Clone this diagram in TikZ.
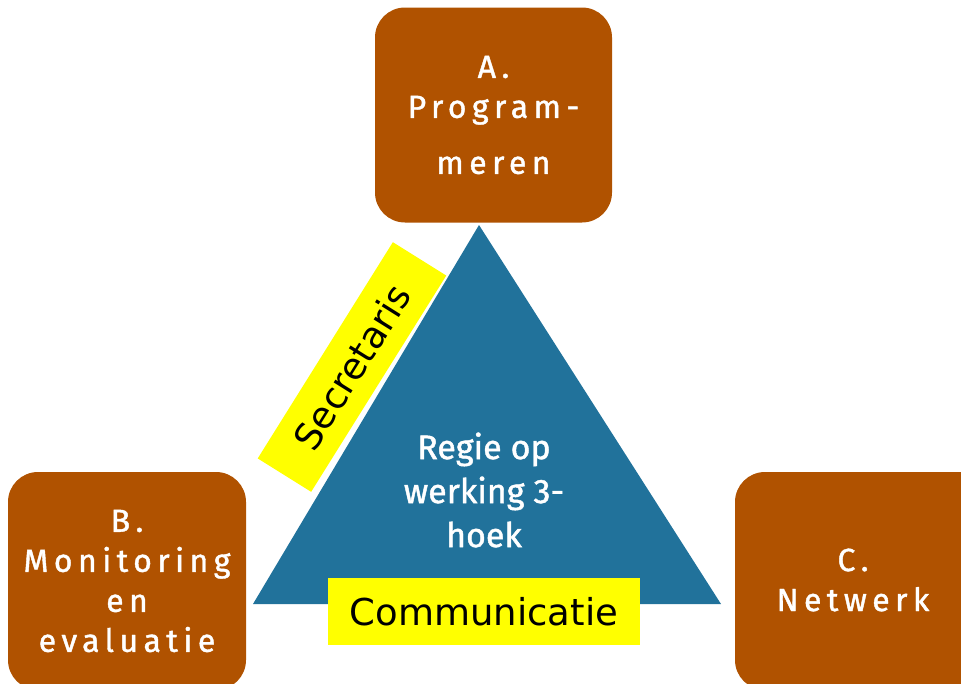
\documentclass[tikz,border=0pt]{standalone}
\usepackage{fontspec}
\setmainfont{DejaVu Sans}
\newfontfamily\boxfont[LetterSpace=17,FakeBold=1.3]{Fira Sans}
\newfontfamily\regiefont[FakeBold=1.3]{Fira Sans}
\newfontfamily\labfont{DejaVu Sans}
\definecolor{brownbox}{RGB}{176,82,0}
\definecolor{triblue}{RGB}{33,114,155}
\definecolor{labyellow}{RGB}{255,255,0}
\begin{document}
\begin{tikzpicture}[x=1pt,y=-1pt,
  boxstyle/.style={fill=brownbox, rounded corners=30pt, text=white, align=center,
    font=\boxfont\fontsize{32}{40}\selectfont, inner sep=0pt},
  tristyle/.style={fill=triblue},
  labstyle/.style={fill=labyellow, text=black, inner sep=0pt, font=\labfont\fontsize{37}{44}\selectfont}
]
\useasboundingbox (0,0) rectangle (961,683);
\clip (0,0) rectangle (961,683);
% boxes
\node[boxstyle, minimum width=237pt, minimum height=215pt] (A) at (493.5,115)
  {A.\\Program-\\[16pt]meren};
\node[boxstyle, minimum width=238pt, minimum height=218pt] (B) at (127,581)
  {B.\\Monitoring\\en\\evaluatie};
\node[boxstyle, minimum width=260pt, minimum height=218pt] (C) at (865,581) {};
\node[text=white, align=center, font=\boxfont\fontsize{32}{40}\selectfont] (Ct) at (853,580) {C.\\Netwerk};
% triangle
\coordinate (top) at (479,225);
\coordinate (bl) at (253,604);
\coordinate (br) at (721,604);
\fill[tristyle] (top) -- (bl) -- (br) -- cycle;
\node[text=white, align=center, font=\regiefont\fontsize{34}{44}\selectfont] (regie) at (484,490)
  {Regie op\\werking 3-\\hoek};
% labels
\node[labstyle, minimum width=312pt, minimum height=67pt] (comm) at (484,611.5) {Communicatie};
\node[labstyle, rotate=58, minimum width=255pt, minimum height=63pt, font=\labfont\fontsize{37}{44}\selectfont] (secr) at (352,367) {Secretaris};
\end{tikzpicture}
\end{document}
